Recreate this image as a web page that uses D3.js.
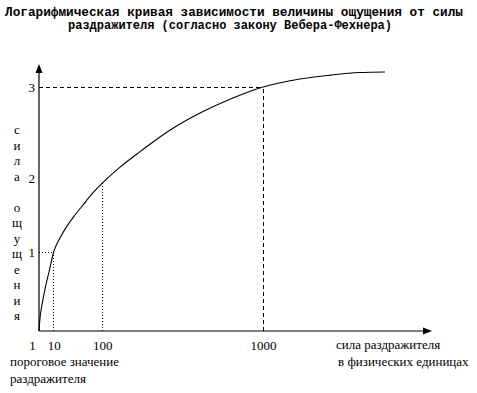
<!DOCTYPE html>
<html>
<head>
<meta charset="utf-8">
<script src="https://cdn.jsdelivr.net/npm/d3@7"></script>
<style>
  body { margin: 0; background: #fff; }
  svg { display: block; }
</style>
</head>
<body>
<svg id="chart" width="477" height="393"></svg>
<script>
// values
var titleLines = ["Логарифмическая кривая зависимости величины ощущения от силы",
                  "раздражителя (согласно закону Вебера-Фехнера)"];
var xTicks = [1, 10, 100, 1000];
var yTicks = [1, 2, 3];
var stimulus  = [1, 1.33, 2.1, 3.6, 6.2, 10, 16.6, 25.7, 38.5, 53.7, 73.6, 100,
                 155, 218, 287, 396, 541, 764, 1000, 1331, 1632, 1963, 2264];
var sensation = [0, 0.165, 0.33, 0.53, 0.75, 1, 1.19, 1.35, 1.5, 1.635, 1.784, 1.93,
                 2.12, 2.264, 2.396, 2.56, 2.714, 2.879, 3, 3.088, 3.13, 3.159, 3.165];
// drop lines from the curve to the axes
var dropX = [10, 100, 1000];
var dropY = [1, 1.93, 3];
var yLetters = ["с", "и", "л", "а", "", "о", "щ", "у", "щ", "е", "н", "и", "я"];
var xTitle = ["сила раздражителя", "в физических единицах"];
var thresholdLabel = ["пороговое значение", "раздражителя"];

var svg = d3.select("#chart"),
    serif = "'Liberation Serif', 'Times New Roman', serif";

var x = d3.scalePow().exponent(0.52).domain([1, 1000]).range([39, 263]),
    y = d3.scaleLinear().domain([0, 1, 2, 3]).range([331, 252, 178, 87]);

// Title
svg.selectAll(".title")
  .data(titleLines)
  .enter().append("text")
    .attr("class", "title")
    .attr("x", function(d, i) {return i === 0 ? 234 : 230;})
    .attr("y", function(d, i) {return 16 + i * 13;})
    .attr("text-anchor", "middle")
    .attr("textLength", function(d, i) {return i === 0 ? 458 : 324;})
    .attr("lengthAdjust", "spacingAndGlyphs")
    .style("font-family", "'Liberation Mono', 'DejaVu Sans Mono', monospace")
    .style("font-weight", "bold")
    .style("font-size", "12px")
    .text(function(d) {return d;});

// Drop lines (dotted for 10 and 100, dashed for 1000)
var drops = dropX.map(function(d, i) {return {x: d, y: dropY[i], i: i};});
var dash = function(d) {return d.i === 2 ? "4,3" : "1,2";};

svg.selectAll(".vdrop")
  .data(drops)
  .enter().append("line")
    .attr("class", "vdrop")
    .attr("x1", function(d) {return x(d.x);})
    .attr("x2", function(d) {return x(d.x);})
    .attr("y1", y(0))
    .attr("y2", function(d) {return y(d.y);})
    .attr("stroke", "#000")
    .attr("stroke-dasharray", dash)
    .attr("shape-rendering", "crispEdges");

svg.selectAll(".hdrop")
  .data(drops.filter(function(d) {return d.i !== 1;}))
  .enter().append("line")
    .attr("class", "hdrop")
    .attr("x1", x(1))
    .attr("x2", function(d) {return x(d.x);})
    .attr("y1", function(d) {return y(d.y);})
    .attr("y2", function(d) {return y(d.y);})
    .attr("stroke", "#000")
    .attr("stroke-dasharray", dash)
    .attr("shape-rendering", "crispEdges");

// Axis lines with arrows
var x0 = x(1), y0 = y(0), xEnd = 432, yEnd = 64;
svg.append("line")
  .attr("x1", x0).attr("y1", y0).attr("x2", xEnd - 6).attr("y2", y0)
  .attr("stroke", "#000").attr("stroke-width", 1.2);
svg.append("line")
  .attr("x1", x0).attr("y1", y0).attr("x2", x0).attr("y2", yEnd + 6)
  .attr("stroke", "#000").attr("stroke-width", 1.2);
svg.append("path")
  .attr("d", "M" + xEnd + "," + y0 + "L" + (xEnd - 9) + "," + (y0 - 3.5) + "L" + (xEnd - 9) + "," + (y0 + 3.5) + "Z")
  .attr("fill", "#000");
svg.append("path")
  .attr("d", "M" + x0 + "," + yEnd + "L" + (x0 - 3.5) + "," + (yEnd + 9) + "L" + (x0 + 3.5) + "," + (yEnd + 9) + "Z")
  .attr("fill", "#000");

// Tick labels
var gx = svg.append("g")
  .attr("transform", "translate(0," + y0 + ")")
  .call(d3.axisBottom(x).tickValues(xTicks).tickSize(0).tickPadding(10).tickFormat(d3.format("d")));
gx.select(".domain").remove();
gx.selectAll("text")
  .attr("dx", function(d) {return d === 1 ? -7 : 0;})
  .style("font-family", serif).style("font-size", "13px").attr("fill", "#000");

var gy = svg.append("g")
  .attr("transform", "translate(" + x0 + ",0)")
  .call(d3.axisLeft(y).tickValues(yTicks).tickSize(0).tickPadding(4).tickFormat(d3.format("d")));
gy.select(".domain").remove();
gy.selectAll("text")
  .style("font-family", serif).style("font-size", "13px").attr("fill", "#000");

// Vertical y-axis title, one letter per line
svg.selectAll(".yletter")
  .data(yLetters)
  .enter().append("text")
    .attr("class", "yletter")
    .attr("x", 17)
    .attr("y", function(d, i) {return 134 + i * 15.5;})
    .attr("text-anchor", "middle")
    .style("font-family", serif).style("font-size", "13px")
    .text(function(d) {return d;});

// x-axis title and threshold note
svg.selectAll(".xtitle")
  .data(xTitle)
  .enter().append("text")
    .attr("class", "xtitle")
    .attr("x", function(d, i) {return i === 0 ? 336 : 338;})
    .attr("y", function(d, i) {return 349 + i * 17;})
    .style("font-family", serif).style("font-size", "13px")
    .text(function(d) {return d;});

svg.selectAll(".thr")
  .data(thresholdLabel)
  .enter().append("text")
    .attr("class", "thr")
    .attr("x", 10)
    .attr("y", function(d, i) {return 366 + i * 17;})
    .style("font-family", serif).style("font-size", "13px")
    .text(function(d) {return d;});

// The curve
var line = d3.line()
  .x(function(d) {return x(d[0]);})
  .y(function(d) {return y(d[1]);})
  .curve(d3.curveMonotoneX);

svg.append("path")
  .datum(stimulus.map(function(d, i) {return [d, sensation[i]];}))
  .attr("d", line)
  .attr("fill", "none")
  .attr("stroke", "#000")
  .attr("stroke-width", 1.1);
</script>
</body>
</html>
